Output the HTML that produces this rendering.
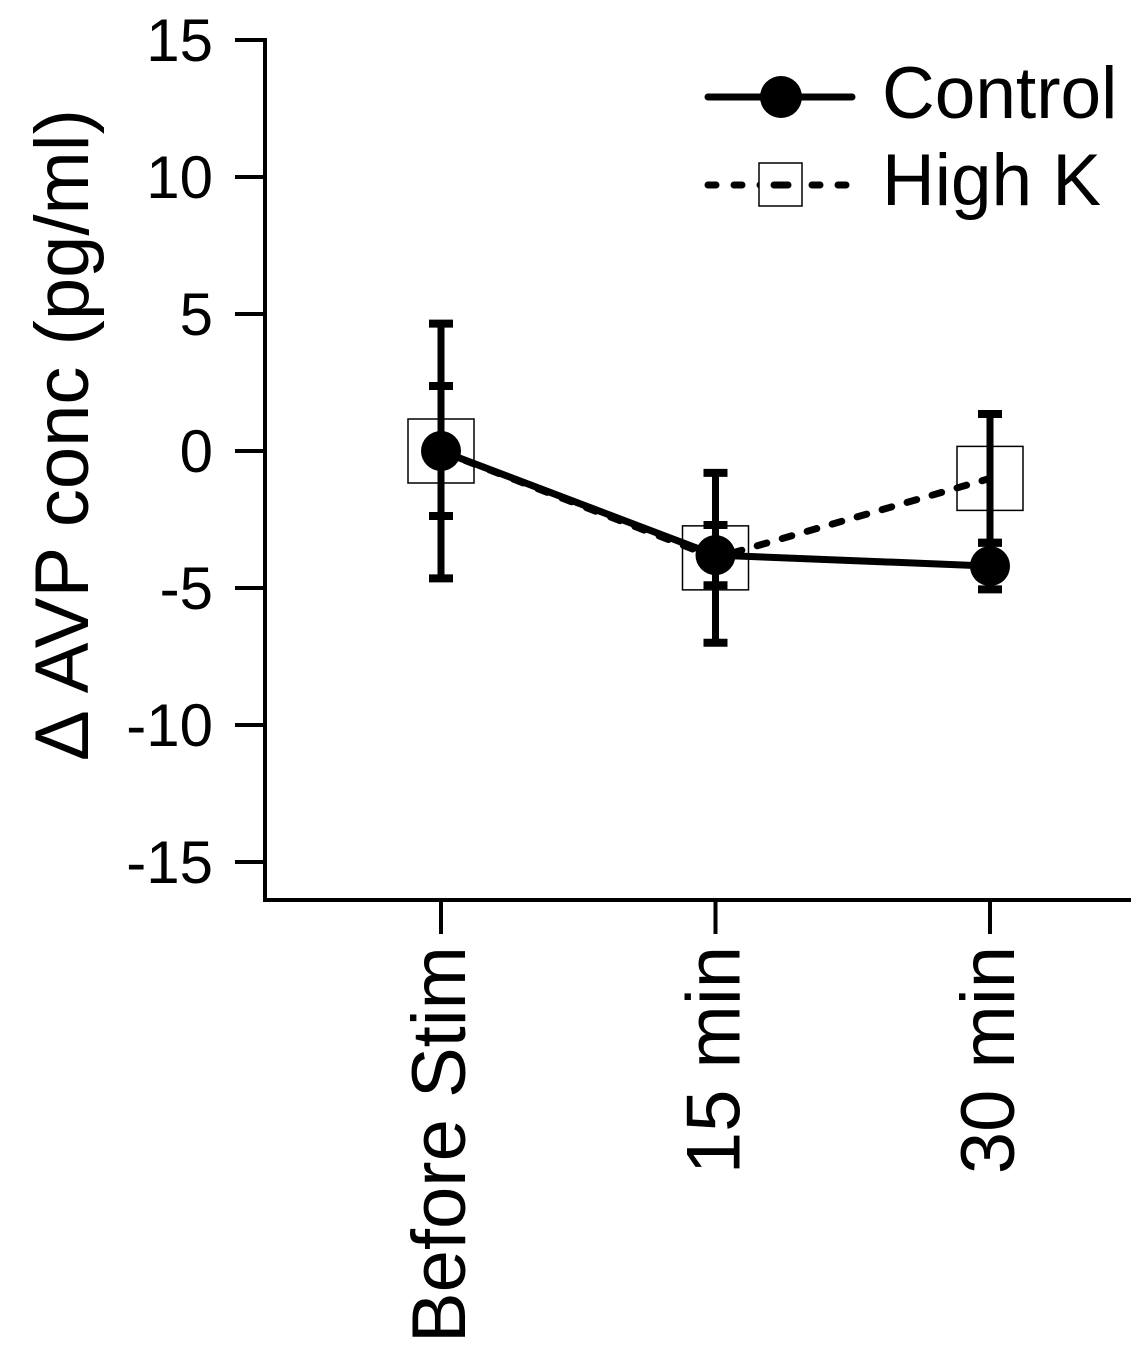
<!DOCTYPE html>
<html><head><meta charset="utf-8"><style>
body{margin:0;background:#fff}
svg{display:block;font-family:"Liberation Sans",Arial,sans-serif}
</style></head><body>
<svg id="chart" width="1142" height="1352" viewBox="0 0 1142 1352">
<g id="axes"></g><g id="series"></g>
<g>
 <line x1="708" y1="97" x2="852" y2="97" stroke="#000" stroke-width="7" stroke-linecap="round"/>
 <circle cx="781" cy="97" r="21" fill="#000"/>
 <text x="882" y="118" font-size="73">Control</text>
 <line x1="708" y1="185" x2="852" y2="185" stroke="#000" stroke-width="7" stroke-dasharray="8,18" stroke-linecap="round"/>
 <rect x="759" y="163" width="43" height="43" fill="#fff" stroke="#000" stroke-width="1.5"/>
 <line x1="774" y1="185" x2="788" y2="185" stroke="#000" stroke-width="7" stroke-linecap="round"/>
 <text x="882" y="205" font-size="73">High K</text>
</g>
<text transform="translate(88,435) rotate(-90)" text-anchor="middle" font-size="76">Δ AVP conc (pg/ml)</text>
</svg>
<script>
const categories=["Before Stim","15 min","30 min"];
const yTicks=[15,10,5,0,-5,-10,-15];
const controlVals=[0,-3.8,-4.2];
const controlErr=[4.65,1.1,0.85];
const highKVals=[0,-3.9,-1.0];
const highKErr=[2.37,3.1,2.35];
const NS="http://www.w3.org/2000/svg";
const y=v=>451-v*27.4;
const x=i=>441+i*274.5;
function mk(tag,attrs,parent){const e=document.createElementNS(NS,tag);for(const k in attrs)e.setAttribute(k,attrs[k]);parent.appendChild(e);return e;}
const axes=document.getElementById('axes'),ser=document.getElementById('series');
let e=mk('line',{x1:265,y1:38,x2:265,y2:902,stroke:'#000','stroke-width':4},axes);


e=mk('line',{x1:263,y1:900,x2:1131,y2:900,stroke:'#000','stroke-width':4},axes);


yTicks.forEach(t=>{
 const l=mk('line',{x1:235,y1:y(t),x2:265,y2:y(t),stroke:'#000','stroke-width':4},axes);
 
 
 const tx=mk('text',{x:213,y:y(t)+21,'text-anchor':'end','font-size':60},axes);
 tx.textContent=t;
 
 
});
categories.forEach((c,i)=>{
 const l=mk('line',{x1:x(i),y1:900,x2:x(i),y2:934,stroke:'#000','stroke-width':4},axes);
 
 
 const tx=mk('text',{transform:`translate(${x(i)+24},946) rotate(-90)`,'text-anchor':'end','font-size':76},axes);
 tx.textContent=c;
 
 
});
function errbar(i,v,er){
 const g=mk('g',{},ser);
 
 
 mk('line',{x1:x(i),y1:y(v+er),x2:x(i),y2:y(v-er),stroke:'#000','stroke-width':7},g);
 mk('line',{x1:x(i)-12,y1:y(v+er),x2:x(i)+12,y2:y(v+er),stroke:'#000','stroke-width':8},g);
 mk('line',{x1:x(i)-12,y1:y(v-er),x2:x(i)+12,y2:y(v-er),stroke:'#000','stroke-width':8},g);
}
let p=mk('polyline',{points:highKVals.map((v,i)=>x(i)+','+y(v)).join(' '),fill:'none',stroke:'#000','stroke-width':7,'stroke-dasharray':'10,16','stroke-linecap':'round'},ser);


p=mk('polyline',{points:controlVals.map((v,i)=>x(i)+','+y(v)).join(' '),fill:'none',stroke:'#000','stroke-width':7},ser);


highKVals.forEach((v,i)=>{
 const r=mk('rect',{x:x(i)-33,y:y(v)-32,width:66,height:64,fill:'none',stroke:'#000','stroke-width':1.5},ser);
 
 
});
highKVals.forEach((v,i)=>errbar(i,v,highKErr[i]));
controlVals.forEach((v,i)=>errbar(i,v,controlErr[i]));
controlVals.forEach((v,i)=>{
 const c=mk('circle',{cx:x(i),cy:y(v),r:20,fill:'#000'},ser);
 
 
});
</script>
</body></html>
